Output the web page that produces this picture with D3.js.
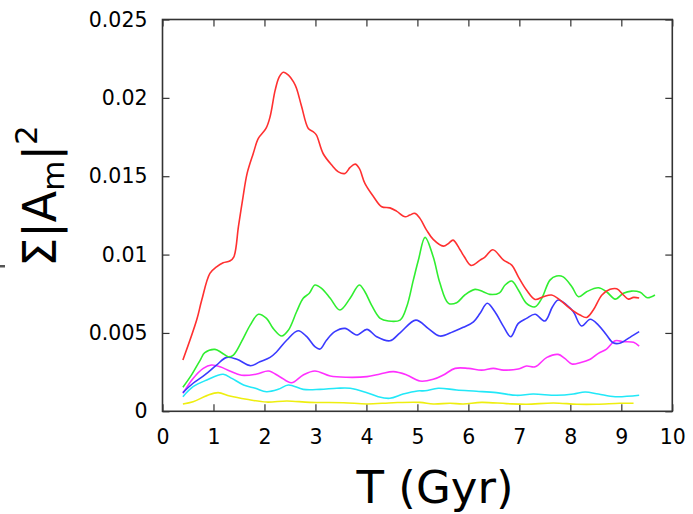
<!DOCTYPE html>
<html>
<head>
<meta charset="utf-8">
<script src="https://cdn.jsdelivr.net/npm/d3@7"></script>
<style>
  html, body { margin: 0; padding: 0; background: #fff; }
  svg { display: block; }
</style>
</head>
<body>
<svg id="chart" width="693" height="514"></svg>
<script>
// Mode power sum |A_m|^2 against time, one curve per mode
const xTicks = [0, 1, 2, 3, 4, 5, 6, 7, 8, 9, 10];
const yTicks = [0, 0.005, 0.01, 0.015, 0.02, 0.025];

const redSeries = [
  [0.40,0.00327],[0.67,0.00582],[0.77,0.0071],[0.93,0.0088],[1.06,0.00922],[1.19,0.00948],
  [1.32,0.00959],[1.40,0.00986],[1.49,0.0118],[1.57,0.01348],[1.66,0.01518],[1.78,0.01645],
  [1.88,0.01741],[2.03,0.01805],[2.11,0.01879],[2.21,0.02049],[2.29,0.02134],[2.37,0.02163],
  [2.47,0.02145],[2.57,0.02102],[2.63,0.0206],[2.73,0.01943],[2.86,0.01805],[2.96,0.01783],
  [3.02,0.01762],[3.15,0.01645],[3.32,0.01571],[3.45,0.01528],[3.58,0.01518],[3.68,0.01556],
  [3.78,0.01577],[3.86,0.0155],[3.97,0.01454],[4.14,0.01369],[4.30,0.01305],[4.46,0.01298],
  [4.59,0.01277],[4.76,0.01241],[4.85,0.01252],[4.95,0.01263],[5.05,0.01231],[5.18,0.01156],
  [5.31,0.01097],[5.51,0.01054],[5.61,0.01071],[5.70,0.01092],[5.84,0.01029],[5.92,0.00986],
  [6.05,0.00931],[6.23,0.00965],[6.33,0.00986],[6.48,0.01031],[6.69,0.00965],[6.85,0.00933],
  [6.98,0.00858],[7.14,0.00774],[7.31,0.00714],[7.47,0.00731],[7.63,0.00742],[7.80,0.0071],
  [7.99,0.00657],[8.19,0.00614],[8.32,0.00599],[8.45,0.00646],[8.62,0.00742],[8.78,0.00778],
  [8.91,0.00782],[9.04,0.00742],[9.14,0.00716],[9.24,0.00727],[9.35,0.00723]
];

const greenSeries = [
  [0.40,0.00153],[0.57,0.00232],[0.74,0.00327],[0.83,0.00374],[1.03,0.00395],[1.16,0.00374],
  [1.29,0.00348],[1.39,0.00359],[1.55,0.00444],[1.72,0.0055],[1.88,0.00619],[2.04,0.00593],
  [2.17,0.00529],[2.34,0.0048],[2.47,0.00518],[2.63,0.00635],[2.76,0.00721],[2.88,0.00753],
  [2.99,0.00806],[3.12,0.00784],[3.29,0.00721],[3.48,0.00646],[3.68,0.00721],[3.86,0.00806],
  [3.97,0.00763],[4.10,0.00678],[4.27,0.00593],[4.43,0.00576],[4.66,0.00582],[4.79,0.00667],
  [4.92,0.00837],[5.02,0.00965],[5.15,0.0111],[5.31,0.00986],[5.44,0.0082],[5.61,0.00689],
  [5.77,0.00693],[5.93,0.00742],[6.13,0.00778],[6.29,0.00763],[6.42,0.00746],[6.61,0.00756],
  [6.72,0.00806],[6.85,0.00831],[6.98,0.00774],[7.14,0.00689],[7.31,0.00667],[7.44,0.00721],
  [7.60,0.00837],[7.73,0.00863],[7.86,0.00858],[8.03,0.00795],[8.16,0.00731],[8.32,0.00763],
  [8.55,0.00788],[8.71,0.00763],[8.88,0.00716],[9.04,0.00753],[9.20,0.00767],[9.37,0.00759],
  [9.51,0.00725],[9.66,0.00742]
];

const blueSeries = [
  [0.40,0.00119],[0.60,0.00179],[0.83,0.00232],[1.06,0.00295],[1.26,0.00344],[1.46,0.00332],
  [1.73,0.00291],[1.91,0.00316],[2.11,0.00344],[2.24,0.0038],[2.44,0.00455],[2.66,0.00514],
  [2.83,0.00476],[2.99,0.00412],[3.09,0.00397],[3.22,0.00455],[3.38,0.00508],[3.58,0.00529],
  [3.81,0.00487],[4.01,0.00523],[4.20,0.00476],[4.46,0.0045],[4.66,0.00501],[4.97,0.00582],
  [5.21,0.00529],[5.44,0.0048],[5.70,0.00508],[5.90,0.00536],[6.10,0.00571],[6.23,0.00625],
  [6.37,0.00689],[6.52,0.00635],[6.69,0.0054],[6.83,0.00476],[6.98,0.00561],[7.14,0.00593],
  [7.31,0.00619],[7.50,0.00576],[7.65,0.00667],[7.76,0.0071],[7.93,0.00678],[8.06,0.00635],
  [8.22,0.00544],[8.39,0.00587],[8.55,0.0055],[8.71,0.00487],[8.84,0.00437],[8.97,0.00434],
  [9.17,0.00472],[9.35,0.00508]
];

const magentaSeries = [
  [0.40,0.00115],[0.60,0.0021],[0.80,0.00274],[0.96,0.00295],[1.13,0.00284],[1.32,0.00257],
  [1.55,0.0023],[1.85,0.00238],[2.08,0.00257],[2.30,0.00221],[2.53,0.00182],[2.76,0.00232],
  [2.99,0.00257],[3.29,0.00225],[3.61,0.00217],[4.01,0.00221],[4.27,0.00238],[4.53,0.00253],
  [4.79,0.00232],[5.05,0.00193],[5.31,0.00204],[5.51,0.00232],[5.74,0.00274],[6.00,0.00274],
  [6.26,0.00263],[6.49,0.00274],[6.69,0.00263],[6.98,0.0027],[7.14,0.00289],[7.31,0.00284],
  [7.54,0.00344],[7.76,0.00363],[7.89,0.00338],[8.03,0.00302],[8.19,0.0031],[8.39,0.00332],
  [8.55,0.0037],[8.71,0.00397],[8.88,0.0045],[9.04,0.00444],[9.24,0.0044],[9.35,0.00416]
];

const cyanSeries = [
  [0.40,0.00093],[0.60,0.00157],[0.87,0.002],[1.19,0.00236],[1.36,0.0021],[1.59,0.00168],
  [1.82,0.00147],[2.04,0.00125],[2.27,0.0014],[2.47,0.00168],[2.76,0.0014],[3.09,0.0014],
  [3.42,0.00147],[3.68,0.00147],[4.01,0.00119],[4.23,0.00093],[4.46,0.00083],[4.72,0.0011],
  [5.00,0.0013],[5.15,0.00131],[5.41,0.00147],[5.77,0.00136],[6.16,0.00128],[6.55,0.00119],
  [6.94,0.00102],[7.27,0.0011],[7.73,0.00102],[8.06,0.0011],[8.29,0.00123],[8.55,0.0011],
  [8.88,0.00093],[9.35,0.00102]
];

const yellowSeries = [
  [0.40,0.00047],[0.60,0.00061],[0.87,0.001],[1.09,0.00119],[1.32,0.00098],[1.65,0.00077],
  [2.04,0.00059],[2.44,0.00066],[2.89,0.00057],[3.55,0.00055],[4.01,0.00047],[4.53,0.00055],
  [5.05,0.00057],[5.31,0.00047],[5.64,0.00051],[5.90,0.00047],[6.26,0.00057],[6.75,0.00049],
  [7.14,0.00045],[7.67,0.00053],[8.13,0.00045],[8.52,0.00045],[8.97,0.00051],[9.24,0.00051]
];

const seriesList = [
  { data: yellowSeries,  color: "#eeee10" },
  { data: cyanSeries,    color: "#22e8f8" },
  { data: magentaSeries, color: "#ff30ff" },
  { data: blueSeries,    color: "#3a3aff" },
  { data: greenSeries,   color: "#30ee30" },
  { data: redSeries,     color: "#ff3030" }
];

const svg = d3.select("#chart");
const margin = { left: 162.5, right: 693 - 672.3, top: 19.5, bottom: 514 - 411.3 };
const W = 693 - margin.left - margin.right;
const H = 514 - margin.top - margin.bottom;

const x = d3.scaleLinear().domain([0, 10]).range([0, W]);
const y = d3.scaleLinear().domain([0, 0.025]).range([H, 0]);

const g = svg.append("g").attr("transform", `translate(${margin.left},${margin.top})`);

const fmtY = d => d === 0 ? "0" : String(+d.toFixed(3));
const tickFont = "DejaVu Sans, sans-serif";
const TL = 7;

function styleAxis(sel, showText) {
  sel.select(".domain").remove();
  sel.selectAll(".tick line").attr("stroke", "#333").attr("stroke-width", 1.2);
  sel.selectAll(".tick text").attr("fill", "#000").style("font-family", tickFont).style("font-size", "20.5px");
  if (!showText) sel.selectAll(".tick text").remove();
}

g.append("g").attr("transform", `translate(0,${H})`)
  .call(d3.axisBottom(x).tickValues(xTicks).tickSizeInner(-TL).tickSizeOuter(0).tickPadding(18))
  .call(s => styleAxis(s, true));
g.append("g")
  .call(d3.axisTop(x).tickValues(xTicks).tickSizeInner(-TL).tickSizeOuter(0))
  .call(s => styleAxis(s, false));
g.append("g")
  .call(d3.axisLeft(y).tickValues(yTicks).tickFormat(fmtY).tickSizeInner(-TL).tickSizeOuter(0).tickPadding(15))
  .call(s => styleAxis(s, true));
g.append("g").attr("transform", `translate(${W},0)`)
  .call(d3.axisRight(y).tickValues(yTicks).tickSizeInner(-TL).tickSizeOuter(0))
  .call(s => styleAxis(s, false));

const line = d3.line()
  .x(d => x(d[0]))
  .y(d => y(d[1]))
  .curve(d3.curveCatmullRom.alpha(0.5));

g.selectAll("path.series")
  .data(seriesList)
  .join("path")
  .attr("class", "series")
  .attr("fill", "none")
  .attr("stroke", d => d.color)
  .attr("stroke-width", 1.6)
  .attr("stroke-linejoin", "round")
  .attr("d", d => line(d.data));

// frame
g.append("rect")
  .attr("x", 0).attr("y", 0).attr("width", W).attr("height", H)
  .attr("fill", "none").attr("stroke", "#333").attr("stroke-width", 1.6);

// axis titles
svg.append("text")
  .attr("x", 435).attr("y", 503)
  .attr("text-anchor", "middle")
  .style("font-family", tickFont).style("font-size", "45px").attr("fill", "#000")
  .text("T (Gyr)");

const yl = svg.append("text")
  .attr("transform", "translate(56,196) rotate(-90)")
  .attr("text-anchor", "middle")
  .style("font-family", tickFont).style("font-size", "46px").attr("fill", "#000");
yl.append("tspan").text("\u03A3|A");
yl.append("tspan").attr("dy", 8).style("font-size", "31px").text("m");
yl.append("tspan").attr("dy", -8).text("|");
yl.append("tspan").attr("dy", -19).style("font-size", "31px").text("2");

// small stub at the left edge
svg.append("rect").attr("x", 0).attr("y", 265).attr("width", 5).attr("height", 2.5).attr("fill", "#555");
</script>
</body>
</html>
